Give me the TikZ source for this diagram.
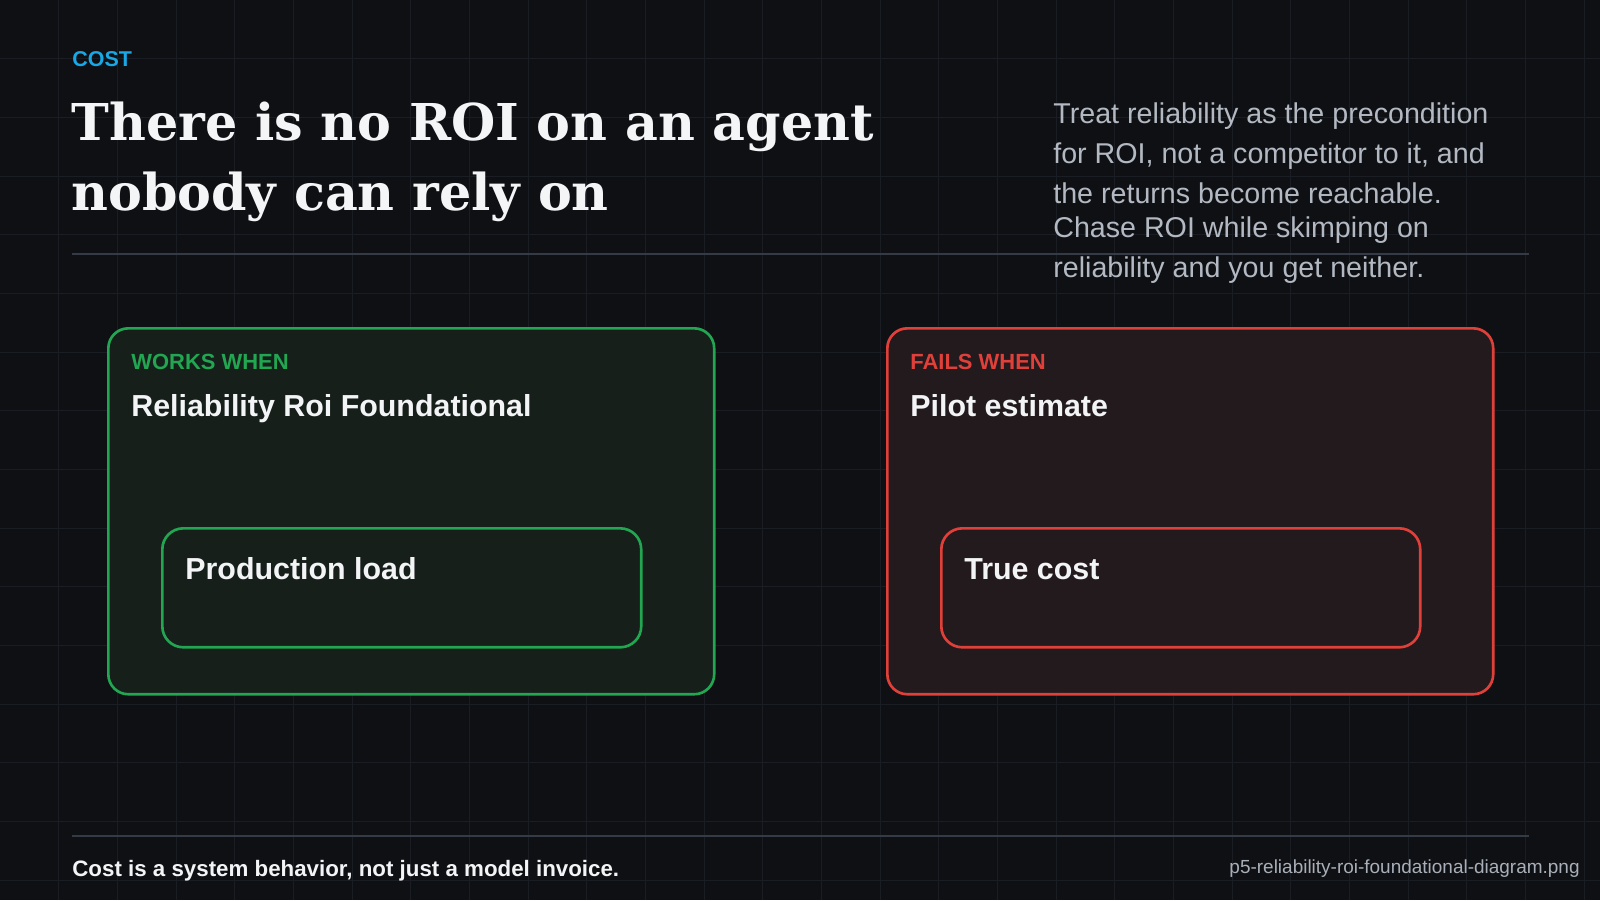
\documentclass[tikz,border=0pt]{standalone}
\usepackage{fontspec}
\setmainfont{Liberation Sans}
\newfontfamily\headserif{DejaVu Serif}
\definecolor{pagebg}{HTML}{0F1013}
\definecolor{gridcol}{HTML}{1A1D23}
\definecolor{rulecol}{HTML}{343B47}
\definecolor{kicker}{HTML}{19A7E6}
\definecolor{titlecol}{HTML}{F4F5F7}
\definecolor{notecol}{HTML}{B3B9C3}
\definecolor{okline}{HTML}{22A652}
\definecolor{okfill}{HTML}{161F1A}
\definecolor{badline}{HTML}{E0403A}
\definecolor{badfill}{HTML}{231A1D}
\definecolor{cardtext}{HTML}{F3F4F6}
\definecolor{fnamecol}{HTML}{A9AFB9}
\begin{document}
\begin{tikzpicture}[x=0.02cm,y=-0.02cm,
  txt/.style={inner sep=0pt,anchor=base west},
  card/.style={draw,line width=1.5pt,rounded corners=0.4cm,anchor=north west,
    minimum width=12.12cm,minimum height=7.32cm},
  innercard/.style={draw,line width=1.5pt,rounded corners=0.42cm,anchor=north west,
    minimum width=9.58cm,minimum height=2.38cm},
  tagtext/.style={txt,font=\fontsize{12.5}{15}\selectfont\bfseries},
  headtext/.style={txt,text=cardtext,font=\fontsize{17.3}{20}\selectfont\bfseries},
  notetext/.style={inner sep=0pt,anchor=north west,align=left,text=notecol,
    font=\fontsize{16.3}{22.9}\selectfont}]
  \useasboundingbox (0,0) rectangle (1600,900);
  \fill[pagebg] (0,0) rectangle (1600,900);
  % grid
  \foreach \i in {1,...,27}
    \draw[gridcol,line width=0.5pt] (\i*58.667,0) -- (\i*58.667,900);
  \foreach \j in {1,...,15}
    \draw[gridcol,line width=0.5pt] (0,\j*58.667) -- (1600,\j*58.667);

  % header
  \node[txt,text=kicker,font=\fontsize{12.2}{14}\selectfont\bfseries] (cost) at (72,66) {COST};
  \node[txt,text=titlecol,font=\fontsize{28.9}{34}\headserif\bfseries] (title1) at (71,140) {There is no ROI on an agent};
  \node[txt,text=titlecol,font=\fontsize{28.9}{34}\headserif\bfseries] (title2) at (71,210) {nobody can rely on};
  \node[notetext] (note1) at (1053,102) {Treat reliability as the precondition\\for ROI, not a competitor to it, and\\the returns become reachable.};
  \node[notetext] (note2) at (1053,216) {Chase ROI while skimping on\\reliability and you get neither.};
  \coordinate (topL) at (72,254);
  \coordinate (topR) at (1529,254);
  \draw[rulecol,line width=1.5pt] (topL) -- (topR);

  % works card
  \node[card,draw=okline,fill=okfill] (works) at (107,327) {};
  \node[tagtext,text=okline] (worksTag) at (131,369) {WORKS WHEN};
  \node[headtext] (worksHead) at (131,416) {Reliability Roi Foundational};
  \node[innercard,draw=okline] (load) at (161,527) {};
  \node[headtext] (loadText) at (185,579) {Production load};

  % fails card
  \node[card,draw=badline,fill=badfill] (fails) at (886,327) {};
  \node[tagtext,text=badline] (failsTag) at (910,369) {FAILS WHEN};
  \node[headtext] (failsHead) at (910,416) {Pilot estimate};
  \node[innercard,draw=badline] (truecost) at (940,527) {};
  \node[headtext] (truecostText) at (964,579) {True cost};

  % footer
  \coordinate (botL) at (72,836);
  \coordinate (botR) at (1529,836);
  \draw[rulecol,line width=1.5pt] (botL) -- (botR);
  \node[txt,text=cardtext,font=\fontsize{12.7}{15}\selectfont\bfseries] (footer) at (72,876) {Cost is a system behavior, not just a model invoice.};
  \node[inner sep=0pt,anchor=base east,text=fnamecol,font=\fontsize{10.8}{13}\selectfont] (fname) at (1580,873) {p5-reliability-roi-foundational-diagram.png};
\end{tikzpicture}
\end{document}
